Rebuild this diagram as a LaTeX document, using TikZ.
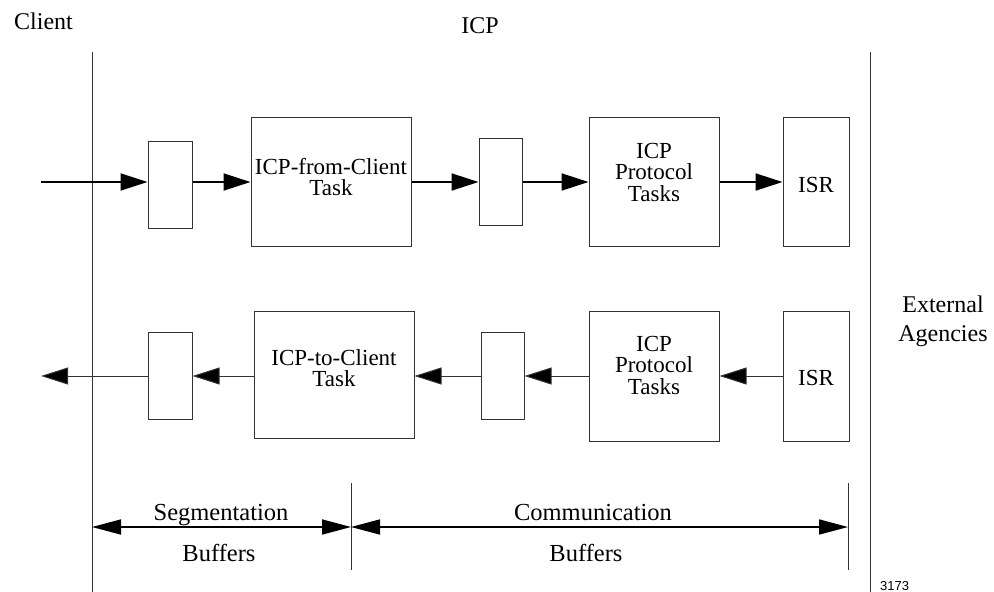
\documentclass[tikz,border=0pt]{standalone}
\usepackage{fontspec}
\setmainfont{Liberation Serif}
\setsansfont{Liberation Sans}
\usetikzlibrary{arrows.meta}
\begin{document}
\begin{tikzpicture}[x=1pt,y=-1pt,
  box/.style={draw=black!80, line width=1pt, inner sep=0pt},
  txt/.style={font=\fontsize{23}{21.5}\selectfont, align=center, inner sep=0pt},
  lbl/.style={font=\fontsize{24.5}{24.5}\selectfont, inner sep=0pt, anchor=base},
  toparrow/.style={line width=2pt, -{Triangle[length=27pt,width=17pt]}},
  botarrow/.style={line width=1pt, draw=black!80, -{Triangle[length=27pt,width=17pt,fill=black]}},
  dimarrow/.style={line width=1.6pt, {Triangle[length=29pt,width=15pt]}-{Triangle[length=29pt,width=15pt]}},
  divider/.style={line width=1pt, draw=black!80}]
\useasboundingbox (0,0) rectangle (994,592);

% boundary lines
\coordinate (v1a) at (92,52);  \coordinate (v1b) at (92,592);
\coordinate (v2a) at (870,52); \coordinate (v2b) at (870,592);
\draw[divider] (v1a) -- (v1b);
\draw[divider] (v2a) -- (v2b);

% titles
\node[lbl, font=\fontsize{24}{24}\selectfont] (client) at (43.5,29) {Client};
\node[lbl, font=\fontsize{24}{24}\selectfont] (icp) at (480,33) {ICP};
\node[txt, font=\fontsize{24}{29}\selectfont] (ext) at (943,321) {External\\Agencies};

% top row
\node[box, minimum width=44pt, minimum height=87pt] (b1) at (170,184.5) {};
\node[box, minimum width=160pt, minimum height=129pt] (fc) at (331,181.5) {};
\node[txt] (fct) at (331,177) {ICP-from-Client\\Task};
\node[box, minimum width=43pt, minimum height=87pt] (b2) at (500.5,181.5) {};
\node[box, minimum width=130pt, minimum height=129pt] (pt1) at (654,181.5) {};
\node[txt] (pt1t) at (654,172) {ICP\\Protocol\\Tasks};
\node[box, minimum width=66pt, minimum height=129pt] (isr1) at (816,181.5) {};
\node[txt] (isr1t) at (816,184.5) {ISR};

\coordinate (in) at (41,182);
\draw[toparrow] (in) -- (b1.west |- in);
\draw[toparrow] (b1.east |- in) -- (fc.west |- in);
\draw[toparrow] (fc.east |- in) -- (b2.west |- in);
\draw[toparrow] (b2.east |- in) -- (pt1.west |- in);
\draw[toparrow] (pt1.east |- in) -- (isr1.west |- in);

% bottom row
\node[box, minimum width=44pt, minimum height=87pt] (b3) at (170,375.5) {};
\node[box, minimum width=160pt, minimum height=127pt] (tc) at (334,374.5) {};
\node[txt] (tct) at (334,368) {ICP-to-Client\\Task};
\node[box, minimum width=43pt, minimum height=87pt] (b4) at (502.5,375.5) {};
\node[box, minimum width=130pt, minimum height=130pt] (pt2) at (654,376) {};
\node[txt] (pt2t) at (654,365) {ICP\\Protocol\\Tasks};
\node[box, minimum width=66pt, minimum height=130pt] (isr2) at (816,376) {};
\node[txt] (isr2t) at (816,378) {ISR};

\coordinate (out) at (41,376);
\draw[botarrow] (isr2.west |- out) -- (pt2.east |- out);
\draw[botarrow] (pt2.west |- out) -- (b4.east |- out);
\draw[botarrow] (b4.west |- out) -- (tc.east |- out);
\draw[botarrow] (tc.west |- out) -- (b3.east |- out);
\draw[botarrow] (b3.west |- out) -- (out);

% dimension lines
\coordinate (dl) at (92,527);
\coordinate (t1a) at (351,483); \coordinate (t1b) at (351,570);
\coordinate (t2a) at (848,483); \coordinate (t2b) at (848,570);
\draw[divider] (t1a) -- (t1b);
\draw[divider] (t2a) -- (t2b);
\draw[dimarrow] (dl) -- (dl -| t1a);
\draw[dimarrow] (dl -| t1a) -- (dl -| t2a);

\node[lbl] (seg) at (221,520) {Segmentation};
\node[lbl] (buf1) at (219,561) {Buffers};
\node[lbl] (com) at (593,520) {Communication};
\node[lbl] (buf2) at (586,561) {Buffers};

\node[font=\sffamily\fontsize{13}{13}\selectfont, inner sep=0pt, anchor=base west] (num) at (880,590.5) {3173};
\end{tikzpicture}
\end{document}
